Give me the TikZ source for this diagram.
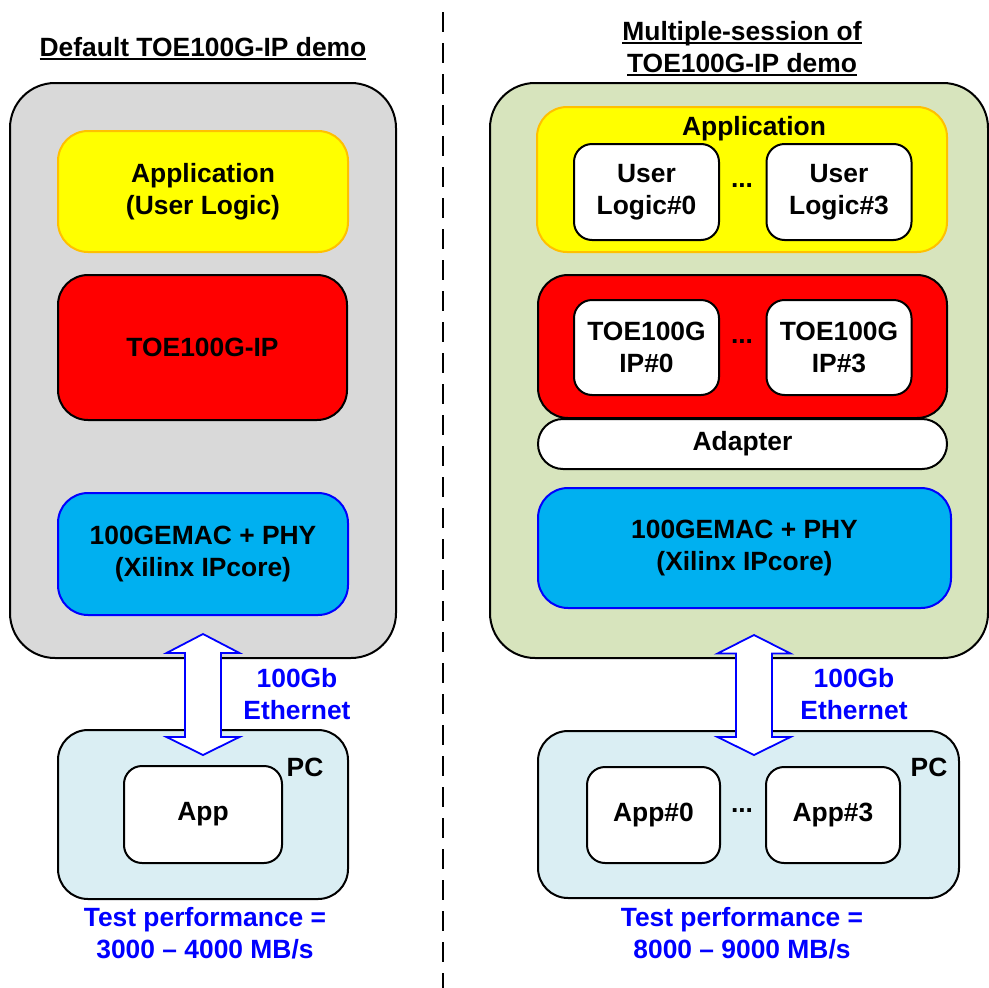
\documentclass[tikz,border=0pt]{standalone}
\usepackage{fontspec}
\setmainfont{Liberation Sans}
\definecolor{graybg}{HTML}{D9D9D9}
\definecolor{greenbg}{HTML}{D7E4BD}
\definecolor{pcbg}{HTML}{DAEEF3}
\definecolor{macblue}{HTML}{00B0F0}
\definecolor{appyellow}{HTML}{FFFF00}
\definecolor{apporange}{HTML}{FFC000}
\definecolor{toered}{HTML}{FF0000}
\definecolor{txtblue}{HTML}{0000FF}
\newcommand\ulx[1]{\setbox0\hbox{#1}\rlap{\rule[-3.5pt]{\wd0}{2pt}}\box0}
\tikzset{
  every node/.style={font=\fontsize{26.4}{32}\selectfont\bfseries, align=center, inner sep=0pt, outer sep=0pt},
  outerbox/.style={draw=black, line width=2pt, rounded corners=45pt},
  appbox/.style={draw=apporange, fill=appyellow, line width=2pt, rounded corners=30pt},
  toebox/.style={draw=black, fill=toered, line width=2pt, rounded corners=30pt},
  macbox/.style={draw=blue, fill=macblue, line width=2pt, rounded corners=30pt},
  pcbox/.style={draw=black, fill=pcbg, line width=2pt, rounded corners=30pt},
  whitebox/.style={draw=black, fill=white, line width=2pt, rounded corners=18pt},
  bluetxt/.style={text=txtblue},
  netarrow/.style={draw=blue, fill=white, line width=1.8pt, line join=miter},
}
\begin{document}
\begin{tikzpicture}[x=1pt,y=-1pt]
\useasboundingbox (0,0) rectangle (988,988);

% divider
\draw[line width=2pt, dash pattern=on 20pt off 11pt] (443,12) -- (443,988);

% ---------------- left side ----------------
\node (lt) at (203,48.5) {\ulx{Default TOE100G-IP demo}};
\node[outerbox, fill=graybg, minimum width=386pt, minimum height=575pt] (lfpga) at (203,370.5) {};
\node[appbox, minimum width=290pt, minimum height=121pt] (lapp) at (203,191.5) {Application\\(User Logic)};
\node[toebox, minimum width=289pt, minimum height=145pt] (ltoe) at (202.5,347.5) {TOE100G-IP};
\node[macbox, minimum width=290pt, minimum height=122pt] (lmac) at (203,554) {100GEMAC + PHY\\(Xilinx IPcore)};
\node[pcbox, minimum width=290pt, minimum height=169pt] (lpc) at (203,814.5) {};
\node[whitebox, minimum width=158pt, minimum height=97pt] (lappc) at (203,814.5) {App};
\node (lpcl) at (305,767) {PC};
\node[bluetxt] (leth) at (297,694) {100Gb\\Ethernet};
\node[bluetxt] (lperf) at (205,933.5) {Test performance =\\3000 -- 4000 MB/s};
\begin{scope}[shift={(203,694.5)}]
\draw[netarrow] (0,-60.5) -- (36.5,-41.5) -- (18,-41.5) -- (18,42.5) -- (36.5,42.5) -- (0,60.5) -- (-36.5,42.5) -- (-18,42.5) -- (-18,-41.5) -- (-36.5,-41.5) -- cycle;
\end{scope}

% ---------------- right side ----------------
\node (rt) at (742,49) {\ulx{Multiple-session of}\\\ulx{TOE100G-IP demo}};
\node[outerbox, fill=greenbg, minimum width=498pt, minimum height=575pt] (rfpga) at (739,370.5) {};
\node[appbox, minimum width=410pt, minimum height=145pt] (rapp) at (742,179.5) {};
\node (rappl) at (754,129) {Application};
\node[whitebox, minimum width=145pt, minimum height=96pt] (ul0) at (646.5,192) {User\\Logic\#0};
\node[whitebox, minimum width=145pt, minimum height=96pt] (ul3) at (839,192) {User\\Logic\#3};
\node[anchor=base] (d1) at (742,187) {...};
\node[toebox, minimum width=409pt, minimum height=143pt] (rtoe) at (742.5,346.5) {};
\node[whitebox, minimum width=145pt, minimum height=95pt] (ip0) at (646.5,347.5) {TOE100G\\IP\#0};
\node[whitebox, minimum width=145pt, minimum height=95pt] (ip3) at (839,347.5) {TOE100G\\IP\#3};
\node[anchor=base] (d2) at (742,343) {...};
\node[draw=black, fill=white, line width=2pt, rounded corners=25pt, minimum width=409pt, minimum height=50pt] (adp) at (742.5,444) {Adapter};
\node[macbox, minimum width=413pt, minimum height=120pt] (rmac) at (744.5,548) {100GEMAC + PHY\\(Xilinx IPcore)};
\node[pcbox, minimum width=421pt, minimum height=167pt] (rpc) at (748.5,814.5) {};
\node[whitebox, minimum width=133pt, minimum height=96pt] (a0) at (653.5,815) {App\#0};
\node[whitebox, minimum width=134pt, minimum height=96pt] (a3) at (833,815) {App\#3};
\node[anchor=base] (d3) at (742,812) {...};
\node (rpcl) at (929,767) {PC};
\node[bluetxt] (reth) at (854,694) {100Gb\\Ethernet};
\node[bluetxt] (rperf) at (742,933) {Test performance =\\8000 -- 9000 MB/s};
\begin{scope}[shift={(754,695)}]
\draw[netarrow] (0,-60) -- (36.5,-41.5) -- (18,-41.5) -- (18,42) -- (36.5,42) -- (0,60) -- (-36.5,42) -- (-18,42) -- (-18,-41.5) -- (-36.5,-41.5) -- cycle;
\end{scope}
\end{tikzpicture}
\end{document}
